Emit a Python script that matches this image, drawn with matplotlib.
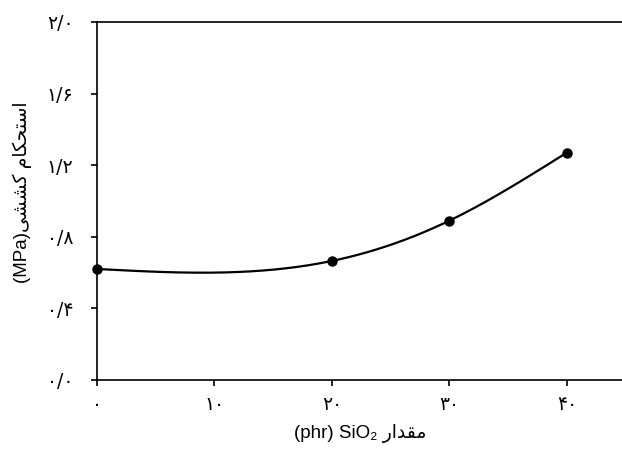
import numpy as np
import matplotlib
matplotlib.use("Agg")
import matplotlib.pyplot as plt

plt.rcParams['font.family'] = ['Liberation Sans', 'DejaVu Sans']

# data
silica_phr = [0, 20, 30, 40]
tensile_mpa = [0.62, 0.665, 0.89, 1.27]

xtick_vals = [0, 10, 20, 30, 40]
xtick_labels = ["\u06f0", "\u06f1\u06f0", "\u06f2\u06f0", "\u06f3\u06f0", "\u06f4\u06f0"]
ytick_vals = [0.0, 0.4, 0.8, 1.2, 1.6, 2.0]
ytick_labels = ["\u06f0/\u06f0", "\u06f0/\u06f4", "\u06f0/\u06f8",
                "\u06f1/\u06f2", "\u06f1/\u06f6", "\u06f2/\u06f0"]

# Persian labels in visual order with presentation forms (no shaping in matplotlib)
word_estehkam = "\ufee1\ufe8e\ufb91\ufea4\ufe98\ufeb3\ufe8d"   # استحکام
word_keshesh = "\ufbfd\ufeb8\ufeb8\ufb90"                      # کششی
word_meghdar = "\ufead\ufe8d\ufeaa\ufed8\ufee3"                # مقدار
ylabel = "(MPa)" + word_keshesh + " " + word_estehkam
xlabel = "(phr) SiO\u2082 " + word_meghdar


def natural_spline(x, y, n=300):
    x = np.asarray(x, float)
    y = np.asarray(y, float)
    h = np.diff(x)
    m = len(x)
    A = np.zeros((m, m))
    r = np.zeros(m)
    A[0, 0] = A[-1, -1] = 1
    for i in range(1, m - 1):
        A[i, i - 1] = h[i - 1]
        A[i, i] = 2 * (h[i - 1] + h[i])
        A[i, i + 1] = h[i]
        r[i] = 6 * ((y[i + 1] - y[i]) / h[i] - (y[i] - y[i - 1]) / h[i - 1])
    M = np.linalg.solve(A, r)
    xs = np.linspace(x[0], x[-1], n)
    ys = np.empty_like(xs)
    for k, xv in enumerate(xs):
        i = min(np.searchsorted(x, xv, side="right") - 1, m - 2)
        t0 = x[i + 1] - xv
        t1 = xv - x[i]
        ys[k] = (M[i] * t0**3 + M[i + 1] * t1**3) / (6 * h[i]) \
            + (y[i] / h[i] - M[i] * h[i] / 6) * t0 \
            + (y[i + 1] / h[i] - M[i + 1] * h[i] / 6) * t1
    return xs, ys


fig = plt.figure(figsize=(6.22, 4.5), dpi=100)
ax = fig.add_axes([0.156, 0.1556, 0.844, 0.7956])

xs, ys = natural_spline(silica_phr, tensile_mpa)
ax.plot(xs, ys, color="black", lw=1.6, clip_on=False)
ax.plot(silica_phr, tensile_mpa, "o", color="black", ms=6.5, clip_on=False)

ax.set_xlim(0, 44.7)
ax.set_ylim(0, 2.0)
ax.spines["right"].set_visible(False)
for s in ax.spines.values():
    s.set_linewidth(1.2)

ax.set_xticks(xtick_vals)
ax.set_xticklabels(xtick_labels, family="DejaVu Sans")
ax.set_yticks(ytick_vals)
ax.set_yticklabels(ytick_labels, family="DejaVu Sans")
ax.tick_params(direction="out", length=4, width=1.2, labelsize=13.5)
ax.tick_params(axis="y", pad=13)
ax.tick_params(axis="x", pad=7)

ax.set_ylabel(ylabel, fontsize=13.5)
ax.set_xlabel(xlabel, fontsize=13.5)
ax.yaxis.set_label_coords(-0.124, 0.525)
ax.xaxis.set_label_coords(0.501, -0.123)

fig.savefig("out.png", dpi=100)
